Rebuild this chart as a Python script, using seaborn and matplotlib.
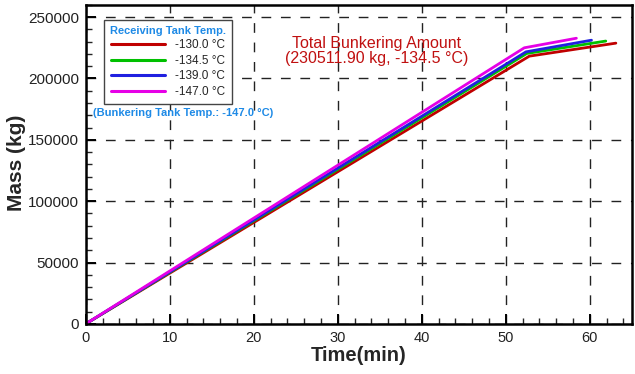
import matplotlib
matplotlib.use("Agg")
import matplotlib.pyplot as plt
import seaborn as sns
import pandas as pd
from matplotlib.ticker import MultipleLocator

# ---- data ----
series_labels = ["-130.0 °C", "-134.5 °C", "-139.0 °C", "-147.0 °C"]
time_130 = [0.0, 52.8, 63.1]
mass_130 = [0, 218200, 228800]
time_1345 = [0.0, 52.5, 61.9]
mass_1345 = [0, 220400, 230500]
time_139 = [0.0, 52.4, 60.2]
mass_139 = [0, 221700, 231200]
time_147 = [0.0, 52.2, 58.4]
mass_147 = [0, 225000, 232800]
series_colors = ["#c00000", "#00c000", "#2020e0", "#e600e6"]

times = [time_130, time_1345, time_139, time_147]
masses = [mass_130, mass_1345, mass_139, mass_147]
rows = []
for lab, t, m in zip(series_labels, times, masses):
    for ti, mi in zip(t, m):
        rows.append({"Time": ti, "Mass": mi, "Temp": lab})
df = pd.DataFrame(rows)

sns.set_style("white")
plt.rcParams["font.family"] = ["Liberation Sans", "DejaVu Sans"]

fig = plt.figure(figsize=(6.35, 3.74), dpi=100)
ax = fig.add_axes([0.135, 0.134, 0.86, 0.853])

sns.lineplot(data=df, x="Time", y="Mass", hue="Temp", hue_order=series_labels,
             palette=series_colors, linewidth=2.0, ax=ax, sort=False,
             estimator=None)

ax.set_xlim(0, 65)
ax.set_ylim(0, 260000)
ax.xaxis.set_major_locator(MultipleLocator(10))
ax.xaxis.set_minor_locator(MultipleLocator(2))
ax.yaxis.set_major_locator(MultipleLocator(50000))
ax.yaxis.set_minor_locator(MultipleLocator(10000))
ax.set_xticks([0, 10, 20, 30, 40, 50, 60])

ax.grid(True, which="major", color="#222222", linewidth=1.0, linestyle=(0, (7, 7)))
ax.set_axisbelow(True)

for s in ax.spines.values():
    s.set_linewidth(1.8)
    s.set_color("black")

ax.tick_params(axis="both", which="major", direction="in", length=7, width=1.4,
               labelsize=10.5, colors="black", pad=5, bottom=True, left=True)
ax.tick_params(axis="both", which="minor", direction="in", length=4, width=1.0,
               bottom=True, left=True)
ax.tick_params(axis="y", which="major", pad=5, labelsize=11)
for lbl in ax.get_xticklabels() + ax.get_yticklabels():
    lbl.set_color("#222222")

ax.set_xlabel("Time(min)", fontsize=14.5, fontweight="bold", labelpad=1)
ax.set_ylabel("Mass (kg)", fontsize=15, fontweight="bold")
ax.yaxis.set_label_coords(-0.109, 0.505)

leg = ax.legend(title="Receiving Tank Temp.", loc="upper left",
                bbox_to_anchor=(0.0335, 0.953), borderaxespad=0,
                fontsize=8.5, title_fontsize=8.0, handlelength=4.6,
                frameon=True, fancybox=False, edgecolor="#444444",
                framealpha=1.0, facecolor="white",
                labelspacing=0.3, borderpad=0.5, handletextpad=0.8)
leg.get_frame().set_linewidth(1.0)
leg.get_title().set_color("#1e8ae6")
leg.get_title().set_fontweight("bold")
for line in leg.get_lines():
    line.set_linewidth(2.2)

ax.text(0.013, 0.661, "(Bunkering Tank Temp.: -147.0 °C)", transform=ax.transAxes,
        fontsize=8.0, fontweight="bold", color="#1e8ae6", ha="left", va="center")

ax.text(34.6, 222500, "Total Bunkering Amount\n(230511.90 kg, -134.5 °C)",
        fontsize=11.5, color="#c01010", ha="center", va="center", linespacing=1.0)

fig.savefig("out.png", dpi=100)
